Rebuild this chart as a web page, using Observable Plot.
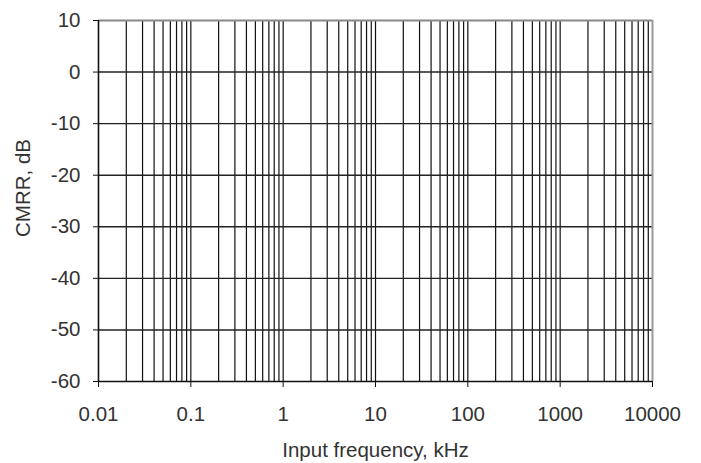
<!DOCTYPE html>
<html>
<head>
<meta charset="utf-8">
<script src="https://cdn.jsdelivr.net/npm/d3@7"></script>
<script src="https://cdn.jsdelivr.net/npm/@observablehq/plot@0.6"></script>
<style>
  html, body { margin: 0; padding: 0; background: #fff; }
  #chart svg { display: block; }
</style>
</head>
<body>
<div id="chart"></div>
<script>
const xDomain = [0.01, 10000];
const yDomain = [-60, 10];
const xMajorTicks = [0.01, 0.1, 1, 10, 100, 1000, 10000];
const xTickLabels = ["0.01", "0.1", "1", "10", "100", "1000", "10000"];
const yTicks = [-60, -50, -40, -30, -20, -10, 0, 10];
const yTickLabels = ["-60", "-50", "-40", "-30", "-20", "-10", "0", "10"];
const xLabel = "Input frequency, kHz";
const yLabel = "CMRR, dB";

// minor log grid positions (1..9 per decade) from the log scale
const xGrid = d3.scaleLog().domain(xDomain).ticks();

const font = "Liberation Sans, Arial, sans-serif";
const fs = 20.5;
const chart = Plot.plot({
  width: 701,
  height: 463,
  marginLeft: 98,
  marginRight: 49,
  marginTop: 20,
  marginBottom: 82,
  style: { fontFamily: font, fontSize: fs + "px", color: "#333", background: "#fff" },
  x: { type: "log", domain: xDomain },
  y: { domain: yDomain },
  marks: [
    Plot.ruleX(xGrid.filter(d => d > xDomain[0] && d < xDomain[1]), { stroke: "#111", strokeWidth: 1.2 }),
    Plot.ruleY(yTicks.filter(d => d > yDomain[0] && d < yDomain[1]), { stroke: "#222", strokeWidth: 1.4 }),
    Plot.ruleY([yDomain[1]], { stroke: "#888", strokeWidth: 2 }),
    Plot.ruleX([xDomain[1]], { stroke: "#999", strokeWidth: 2 }),
    Plot.axisX({ ticks: xMajorTicks, tickFormat: d => xTickLabels[xMajorTicks.indexOf(d)], tickSize: 6, tickPadding: 19, stroke: "#111", fill: "#333", label: null, fontSize: fs }),
    Plot.axisY({ ticks: yTicks, tickFormat: d => yTickLabels[yTicks.indexOf(d)], tickSize: 5, tickPadding: 13, stroke: "#111", fill: "#333", label: null, fontSize: fs }),
    Plot.ruleY([yDomain[0]], { stroke: "#111", strokeWidth: 1.6 }),
    Plot.ruleX([xDomain[0]], { stroke: "#111", strokeWidth: 1.6 }),
    Plot.text([xLabel], { frameAnchor: "bottom", dy: 75, text: d => d, fontSize: fs, fill: "#333" }),
    Plot.text([yLabel], { frameAnchor: "left", dx: -75, dy: 36, rotate: -90, text: d => d, fontSize: fs, fill: "#333" })
  ]
});
document.getElementById("chart").appendChild(chart);
</script>
</body>
</html>
